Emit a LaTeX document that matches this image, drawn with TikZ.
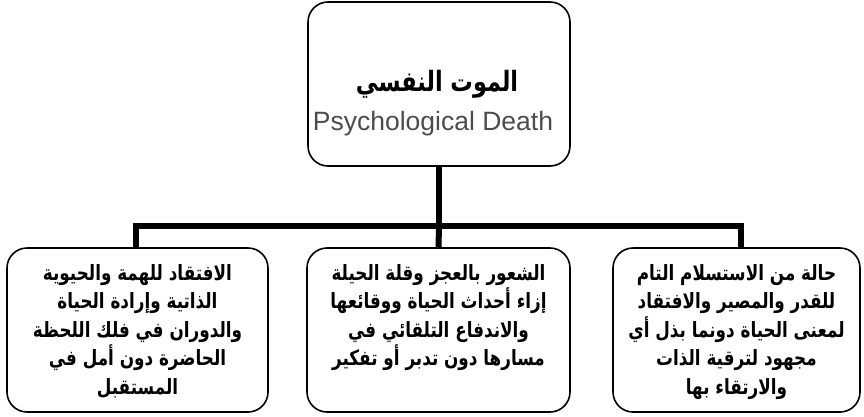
\documentclass[tikz,border=0pt]{standalone}
\usepackage{fontspec}
\setmainfont{Liberation Sans}
\newfontfamily\arabicfont[Script=Arabic,FakeStretch=0.8]{DejaVu Sans}
\TeXXeTstate=1
\begin{document}
\begin{tikzpicture}[x=1pt,y=-1pt,
  box/.style={draw=black,line width=1.6pt,rounded corners=20pt,inner sep=0pt},
  conn/.style={line width=6pt},
  artxt/.style={font=\arabicfont\bfseries\fontsize{21}{28.6}\selectfont,align=center,anchor=north,inner sep=0pt}]
\useasboundingbox (0,0) rectangle (864,416);
% boxes
\node[box,minimum width=262pt,minimum height=164pt] (top) at (439,84) {};
\node[box,minimum width=261pt,minimum height=164pt] (l) at (137.5,330) {};
\node[box,minimum width=263pt,minimum height=164pt] (m) at (438.5,330) {};
\node[box,minimum width=247pt,minimum height=164pt] (r) at (736.5,330) {};
% title
\node[font=\arabicfont\bfseries\fontsize{28}{30}\selectfont,inner sep=0pt] (t1) at (437,84) {\beginR الموت النفسي\endR};
\node[font=\fontsize{26.5}{30}\selectfont,text=black!70,inner sep=0pt] (t2) at (433,124) {Psychological Death};
% connectors
\coordinate (j) at (439,226);
\draw[conn] (top.south) -- (j);
\draw[conn] ([xshift=-1.5pt]l.north) |- (j) -| ([xshift=4.5pt]r.north);
\draw[conn] (j) -- (m.north);
% texts
\node[artxt] (lt) at (137.5,264) {\beginR الافتقاد للهمة والحيوية\endR\\\beginR الذاتية وإرادة الحياة\endR\\\beginR والدوران في فلك اللحظة\endR\\\beginR الحاضرة دون أمل في\endR\\\beginR المستقبل\endR};
\node[artxt] (mt) at (438.5,264) {\beginR الشعور بالعجز وقلة الحيلة\endR\\\beginR إزاء أحداث الحياة ووقائعها\endR\\\beginR والاندفاع التلقائي في\endR\\\beginR مسارها دون تدبر أو تفكير\endR};
\begin{scope}
\clip (600,240) rectangle (864,405);
\node[artxt] (rt) at (736.5,264) {\beginR حالة من الاستسلام التام\endR\\\beginR للقدر والمصير والافتقاد\endR\\\beginR لمعنى الحياة دونما بذل أي\endR\\\beginR مجهود لترقية الذات\endR\\\beginR والارتقاء بها\endR};
\end{scope}
\end{tikzpicture}
\end{document}
